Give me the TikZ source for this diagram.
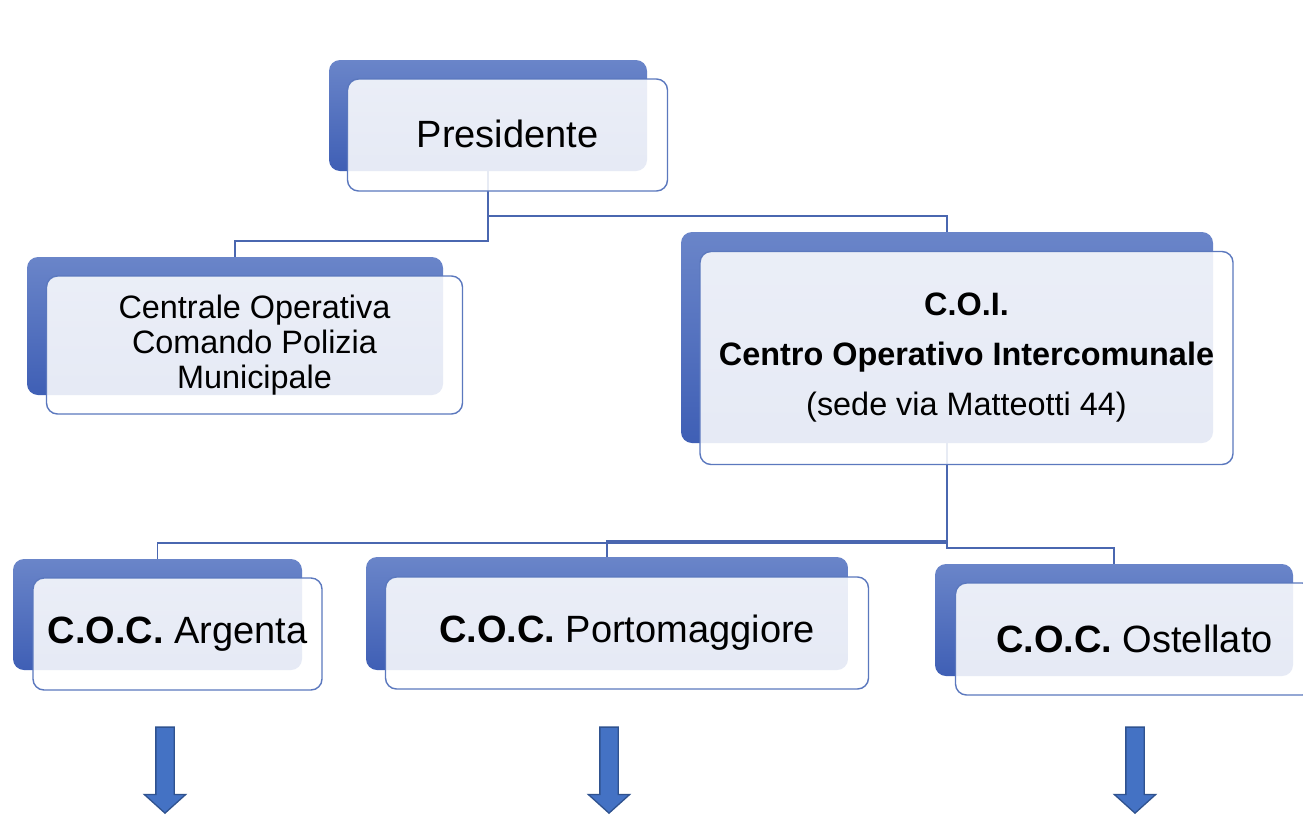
\documentclass[tikz,border=0pt]{standalone}
\usepackage{fontspec}
\setmainfont{Liberation Sans}
\usetikzlibrary{positioning, shapes.arrows}

\definecolor{boxtop}{HTML}{6A85C9}
\definecolor{boxbottom}{HTML}{3F5FB5}
\definecolor{boxline}{HTML}{5B78BE}
\definecolor{linkline}{HTML}{4A67B0}
\definecolor{arrowfill}{HTML}{4472C4}
\definecolor{arrowline}{HTML}{2F528F}

\begin{document}
\begin{tikzpicture}[
        x=1pt, y=-1pt,
        backbox/.style={
            rounded corners=11pt, top color=boxtop, bottom color=boxbottom,
            inner sep=0pt
        },
        frontbox/.style={
            draw=boxline, line width=1.4pt, rounded corners=11pt,
            fill=white, fill opacity=0.87, text opacity=1,
            align=center, inner sep=0pt
        },
        bigtext/.style={font=\fontsize{38}{44}\selectfont},
        smalltext/.style={font=\fontsize{32.4}{35}\selectfont},
        link/.style={draw=linkline, line width=1.4pt},
        downarrow/.style={
            single arrow, shape border rotate=270, draw=arrowline, fill=arrowfill,
            line width=1.3pt, inner sep=8.5pt,
            minimum height=86pt, minimum width=40pt,
            single arrow head extend=11.5pt, single arrow tip angle=96
        }
    ]
    \fill[white] (0,0) rectangle (1303,814);
    \useasboundingbox (0,0) rectangle (1303,814);

    % back boxes
    \node[backbox, minimum width=318pt, minimum height=111pt] (pres_b) at (488,115.5) {};
    \node[backbox, minimum width=416pt, minimum height=138pt] (cent_b) at (235,326) {};
    \node[backbox, minimum width=532pt, minimum height=211pt] (coi_b) at (947,337.5) {};
    \node[backbox, minimum width=289pt, minimum height=111pt] (arg_b) at (157.5,614.5) {};
    \node[backbox, minimum width=482pt, minimum height=113pt] (port_b) at (607,613.5) {};
    \node[backbox, minimum width=358pt, minimum height=112pt] (ost_b) at (1114,620) {};

    % links
    \draw[link] (pres_b.south) |- ([yshift=16pt]cent_b.north) -- (cent_b.north);
    \draw[link] (pres_b.south) |- ([yshift=16pt]coi_b.north) -- (coi_b.north);
    \draw[link] (coi_b.south) |- ([yshift=16pt]arg_b.north) -- (arg_b.north);
    \draw[link] (coi_b.south) |- ([yshift=16pt]port_b.north) -- (port_b.north);
    \draw[link] (coi_b.south) |- ([yshift=16pt]ost_b.north) -- (ost_b.north);

    % front boxes
    \node[frontbox, bigtext, minimum width=320pt, minimum height=112pt] (pres)
        at ([shift={(19.5,19.5)}]pres_b.center) {\raisebox{3pt}{Presidente}};
    \node[frontbox, smalltext, minimum width=416pt, minimum height=138pt] (cent)
        at ([shift={(19.5,19)}]cent_b.center) {Centrale Operativa\\Comando Polizia\\Municipale};
    \node[frontbox, font=\fontsize{32.4}{50}\selectfont, minimum width=533pt, minimum height=213pt] (coi)
        at ([shift={(19.5,20.5)}]coi_b.center)
        {\textbf{C.O.I.}\\\textbf{Centro Operativo Intercomunale}\\(sede via Matteotti 44)};
    \node[frontbox, bigtext, minimum width=289pt, minimum height=112pt] (arg)
        at ([shift={(20,19.5)}]arg_b.center) {\textbf{C.O.C.} Argenta};
    \node[frontbox, bigtext, minimum width=483pt, minimum height=112pt] (port)
        at ([shift={(20,19.5)}]port_b.center) {\textbf{C.O.C.} Portomaggiore};
    \node[frontbox, bigtext, minimum width=358pt, minimum height=112pt] (ost)
        at ([shift={(20.5,19)}]ost_b.center) {\textbf{C.O.C.} Ostellato};

    % arrows below
    \node[downarrow, anchor=tip] (arg_a) at (165,814) {};
    \node[downarrow, anchor=tip] (port_a) at (609,814) {};
    \node[downarrow, anchor=tip] (ost_a) at (1135,814) {};
\end{tikzpicture}
\end{document}
